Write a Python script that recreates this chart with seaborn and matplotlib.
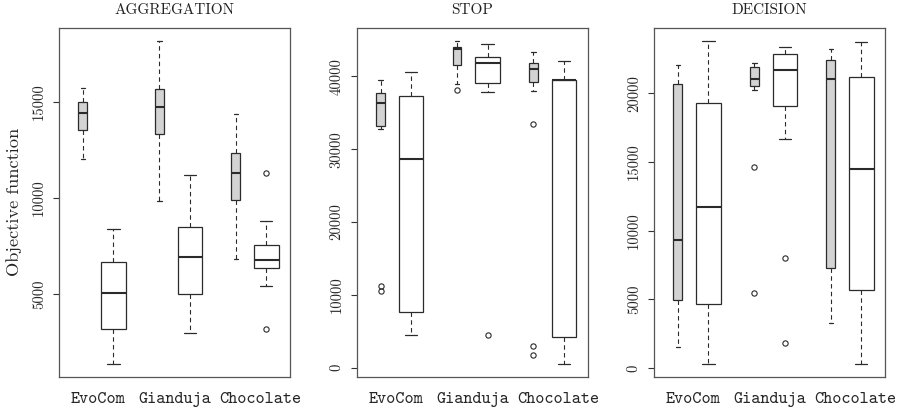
import matplotlib
matplotlib.use("Agg")
import matplotlib.pyplot as plt
import seaborn as sns

# box order: EvoCom (grey, white), Gianduja (grey, white), Chocolate (grey, white)
methods = ["EvoCom", "Gianduja", "Chocolate"]
panels = ["AGGREGATION", "STOP", "DECISION"]

agg_lo = [12010, 1370, 9860, 2950, 6820, 5420]
agg_q1 = [13520, 3180, 13320, 5000, 9880, 6370]
agg_med = [14410, 5040, 14720, 6930, 11320, 6750]
agg_q3 = [15000, 6670, 15680, 8490, 12340, 7550]
agg_hi = [15730, 8370, 18180, 11200, 14370, 8800]
agg_out = [[], [], [], [], [], [3180, 11300]]

stop_lo = [32760, 4490, 38950, 37880, 37990, 550]
stop_q1 = [33220, 7610, 41550, 39120, 39260, 4220]
stop_med = [36290, 28680, 43710, 41760, 41050, 39480]
stop_q3 = [37660, 37250, 43990, 42680, 41790, 39520]
stop_hi = [39500, 40600, 44850, 44370, 43340, 42130]
stop_out = [[10550, 11250], [], [38050], [4540], [33450, 2980, 1790], []]

dec_lo = [1530, 320, 20220, 16650, 3280, 320]
dec_q1 = [4930, 4660, 20530, 19050, 7310, 5680]
dec_med = [9340, 11720, 21040, 21670, 21040, 14510]
dec_q3 = [20650, 19300, 21920, 22840, 22400, 21210]
dec_hi = [22090, 23810, 22230, 23400, 23230, 23710]
dec_out = [[], [], [14640, 5490], [8030, 1800], [], []]

agg_ticks = [5000, 10000, 15000]
stop_ticks = [0, 10000, 20000, 30000, 40000]
dec_ticks = [0, 5000, 10000, 15000, 20000]

sns.set_style("ticks")
plt.rcParams["font.family"] = ["cmr10", "DejaVu Serif"]
plt.rcParams["axes.formatter.use_mathtext"] = True

positions = [1, 2, 3.5, 4.5, 6, 7]
widths = [0.29, 0.8, 0.29, 0.8, 0.29, 0.8]
label_pos = [1.5, 4, 6.8]
fills = ["#d3d3d3", "white"] * 3
line_col = "#2b2b2b"

data = [
    (agg_lo, agg_q1, agg_med, agg_q3, agg_hi, agg_out, agg_ticks),
    (stop_lo, stop_q1, stop_med, stop_q3, stop_hi, stop_out, stop_ticks),
    (dec_lo, dec_q1, dec_med, dec_q3, dec_hi, dec_out, dec_ticks),
]

fig = plt.figure(figsize=(9.01, 4.09), dpi=100)
lefts = [0.0655, 0.3959, 0.7259]

for i, (lo, q1, med, q3, hi, out, ticks) in enumerate(data):
    ax = fig.add_axes([lefts[i], 0.079, 0.2566, 0.8525])
    stats = []
    for j in range(6):
        stats.append({"whislo": lo[j], "q1": q1[j], "med": med[j], "q3": q3[j],
                      "whishi": hi[j], "fliers": out[j]})
    res = ax.bxp(stats, positions=positions, widths=widths,
                 capwidths=[w * 0.5 for w in widths], patch_artist=True,
                 boxprops={"edgecolor": line_col, "linewidth": 0.9},
                 medianprops={"color": line_col, "linewidth": 1.5},
                 whiskerprops={"color": line_col, "linewidth": 0.8,
                               "linestyle": (0, (4, 3))},
                 capprops={"color": line_col, "linewidth": 0.9},
                 flierprops={"marker": "o", "markersize": 3.8, "markerfacecolor": "none",
                             "markeredgecolor": line_col, "markeredgewidth": 0.8})
    for patch, c in zip(res["boxes"], fills):
        patch.set_facecolor(c)

    allv = lo + hi + [v for o in out for v in o]
    vmin, vmax = min(allv), max(allv)
    pad = 0.04 * (vmax - vmin)
    ax.set_ylim(vmin - pad, vmax + pad)
    ax.set_xlim(0.22, 7.78)

    ax.set_yticks(ticks)
    ax.set_yticklabels([str(t) for t in ticks], rotation=90, va="center", fontsize=10.5)
    ax.tick_params(axis="y", length=4, width=0.8, color="#333333", pad=5.5)

    ax.set_xticks(label_pos)
    ax.set_xticklabels(methods, family="cmtt10", fontsize=12.5)
    ax.tick_params(axis="x", length=0, pad=11)

    for s in ax.spines.values():
        s.set_color("#555555")
        s.set_linewidth(0.9)

    ax.set_title(panels[i], fontsize=11, pad=10, color="#222222")
    if i == 0:
        ax.set_ylabel("Objective function", fontsize=13.2)
        ax.yaxis.set_label_coords(-0.16, 0.5)

fig.savefig("out.png", dpi=100)
